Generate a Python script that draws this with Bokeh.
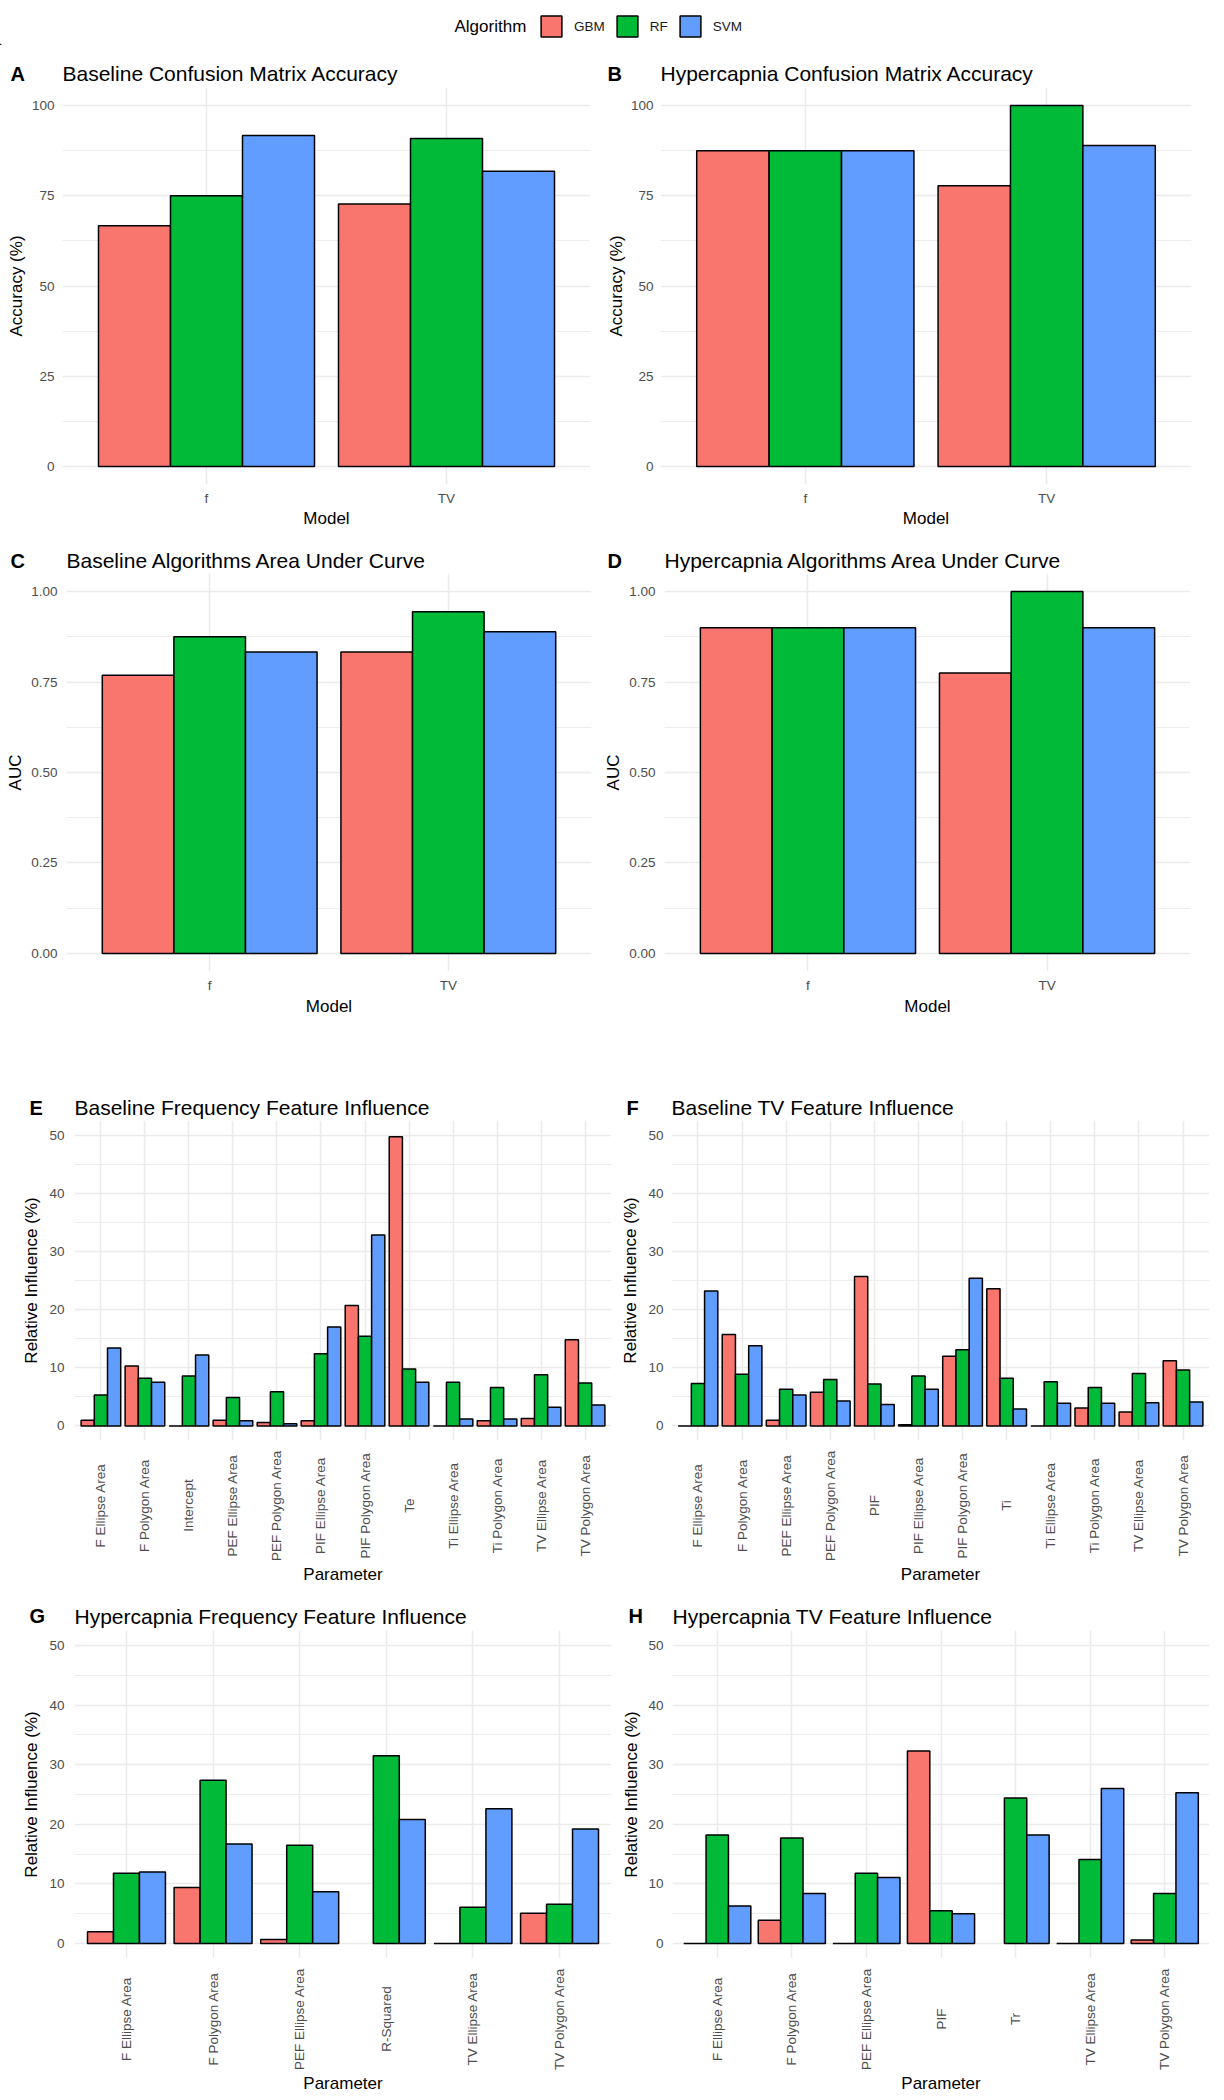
import math
from bokeh.plotting import figure
from bokeh.models import (FactorRange, Range1d, FixedTicker, PrintfTickFormatter,
                          ColumnDataSource, Label, Legend, LegendItem)
from bokeh.core.properties import value
from bokeh.transform import dodge
from bokeh.layouts import column, row
from bokeh.embed import file_html
from bokeh.resources import INLINE

NaN = float("nan")

# ---------------- data ----------------
algorithms = ["GBM", "RF", "SVM"]
colors = ["#F8766D", "#00BA38", "#619CFF"]

models = ["f", "TV"]
base_acc_gbm = [66.7, 72.7]
base_acc_rf = [75.0, 90.9]
base_acc_svm = [91.7, 81.8]

hyper_acc_gbm = [87.5, 77.8]
hyper_acc_rf = [87.5, 100.0]
hyper_acc_svm = [87.5, 88.9]

base_auc_gbm = [0.769, 0.833]
base_auc_rf = [0.875, 0.944]
base_auc_svm = [0.833, 0.889]

hyper_auc_gbm = [0.900, 0.775]
hyper_auc_rf = [0.900, 1.000]
hyper_auc_svm = [0.900, 0.900]

base_f_params = ["F Ellipse Area", "F Polygon Area", "Intercept", "PEF Ellipse Area",
                 "PEF Polygon Area", "PIF Ellipse Area", "PIF Polygon Area", "Te",
                 "Ti Ellipse Area", "Ti Polygon Area", "TV Ellipse Area", "TV Polygon Area"]
base_f_gbm = [1.0, 10.3, 0.0, 1.0, 0.6, 0.9, 20.7, 49.7, 0.0, 0.9, 1.3, 14.8]
base_f_rf = [5.3, 8.2, 8.6, 4.9, 5.9, 12.4, 15.4, 9.8, 7.5, 6.6, 8.8, 7.4]
base_f_svm = [13.4, 7.5, 12.2, 0.9, 0.4, 17.0, 32.8, 7.5, 1.2, 1.2, 3.2, 3.6]

base_tv_params = ["F Ellipse Area", "F Polygon Area", "PEF Ellipse Area", "PEF Polygon Area",
                  "PIF", "PIF Ellipse Area", "PIF Polygon Area", "Ti",
                  "Ti Ellipse Area", "Ti Polygon Area", "TV Ellipse Area", "TV Polygon Area"]
base_tv_gbm = [0.0, 15.7, 1.0, 5.8, 25.7, 0.2, 12.0, 23.6, 0.0, 3.1, 2.4, 11.2]
base_tv_rf = [7.3, 8.9, 6.3, 8.0, 7.2, 8.6, 13.1, 8.2, 7.6, 6.6, 9.0, 9.6]
base_tv_svm = [23.2, 13.8, 5.3, 4.3, 3.7, 6.3, 25.4, 2.9, 3.9, 3.9, 4.0, 4.1]

hyper_f_params = ["F Ellipse Area", "F Polygon Area", "PEF Ellipse Area", "R-Squared",
                  "TV Ellipse Area", "TV Polygon Area"]
hyper_f_gbm = [2.0, 9.4, 0.7, NaN, 0.0, 5.1]
hyper_f_rf = [11.8, 27.4, 16.5, 31.5, 6.1, 6.6]
hyper_f_svm = [12.0, 16.7, 8.7, 20.8, 22.6, 19.2]

hyper_tv_params = ["F Ellipse Area", "F Polygon Area", "PEF Ellipse Area", "PIF", "Tr",
                   "TV Ellipse Area", "TV Polygon Area"]
hyper_tv_gbm = [0.0, 3.9, 0.0, 32.3, NaN, 0.0, 0.6]
hyper_tv_rf = [18.2, 17.7, 11.8, 5.5, 24.4, 14.1, 8.4]
hyper_tv_svm = [6.3, 8.4, 11.1, 5.0, 18.2, 26.0, 25.3]

acc_ticks = [0, 25, 50, 75, 100]
acc_minor = [12.5, 37.5, 62.5, 87.5]
auc_ticks = [0, 0.25, 0.5, 0.75, 1.0]
auc_minor = [0.125, 0.375, 0.625, 0.875]
inf_ticks = [0, 10, 20, 30, 40, 50]
inf_minor = [5, 15, 25, 35, 45]

titles_row1 = ["Baseline Confusion Matrix Accuracy", "Hypercapnia Confusion Matrix Accuracy"]
titles_row2 = ["Baseline Algorithms Area Under Curve", "Hypercapnia Algorithms Area Under Curve"]
titles_row3 = ["Baseline Frequency Feature Influence", "Baseline TV Feature Influence"]
titles_row4 = ["Hypercapnia Frequency Feature Influence", "Hypercapnia TV Feature Influence"]

# ---------------- style ----------------
FONT = "Liberation Sans"
GRID = "#EBEBEB"
TICK = "#4D4D4D"
PAGE_W = 1224


def style_axis(ax, tick_fs):
    ax.axis_line_color = None
    ax.major_tick_line_color = None
    ax.minor_tick_line_color = None
    ax.major_tick_out = 0
    ax.major_tick_in = 0
    ax.minor_tick_out = 0
    ax.minor_tick_in = 0
    ax.major_label_text_color = TICK
    ax.major_label_text_font = FONT
    ax.major_label_text_font_size = tick_fs
    ax.axis_label_text_font = FONT
    ax.axis_label_text_font_style = "normal"
    ax.axis_label_text_color = "black"
    ax.axis_label_text_font_size = "17px"


def make_panel(factors, gbm, rf, svm, lay):
    y0, y1 = lay["yr"]
    rotated = lay.get("rotated", False)
    p = figure(width=lay["w"], height=lay["h"], title=None,
               x_range=FactorRange(factors=factors, range_padding=0.1,
                                   range_padding_units="absolute"),
               y_range=Range1d(y0, y1),
               x_axis_location=None if rotated else "below",
               min_border_left=lay["bl"], min_border_right=lay["w"] - lay["bl"] - lay["fw"],
               min_border_top=0, min_border_bottom=lay["h"] - lay["fh"],
               output_backend="svg", toolbar_location=None)
    p.outline_line_color = None
    src = ColumnDataSource(dict(param=factors, GBM=gbm, RF=rf, SVM=svm))
    for alg, col, off in zip(algorithms, colors, [-0.3, 0.0, 0.3]):
        p.vbar(x=dodge("param", off, range=p.x_range), top=alg, bottom=0, width=0.3,
               source=src, fill_color=col, line_color="black", line_width=1.5)

    for ax in p.axis:
        style_axis(ax, lay["tick_fs"])

    ticker = FixedTicker(ticks=lay["ticks"], minor_ticks=lay["minor"])
    p.yaxis.ticker = ticker
    p.ygrid.ticker = ticker
    if lay.get("fmt"):
        p.yaxis.formatter = PrintfTickFormatter(format=lay["fmt"])
    p.yaxis.axis_label = lay["ylabel"]
    p.yaxis.major_label_standoff = lay["ytick_so"]
    p.yaxis.axis_label_standoff = lay["ylab_so"]
    if not rotated:
        p.xaxis.axis_label = lay["xlabel"]
        p.xaxis.major_label_standoff = lay["xtick_so"]
        p.xaxis.axis_label_standoff = lay["xlab_so"]

    p.xgrid.grid_line_color = GRID
    p.xgrid.grid_line_width = 1.5
    p.ygrid.grid_line_color = GRID
    p.ygrid.grid_line_width = 1.5
    p.ygrid.minor_grid_line_color = GRID
    p.ygrid.minor_grid_line_width = 0.9
    return p, src


def make_label_strip(panel, src, factors, lay):
    """Strip below a panel: vertical category labels (centred) and the x-axis title."""
    sh = lay["strip_h"]
    s = figure(width=lay["w"], height=sh, title=None,
               x_range=panel.x_range, y_range=Range1d(0, sh),
               x_axis_location=None, y_axis_location=None,
               min_border_left=lay["bl"], min_border_right=lay["w"] - lay["bl"] - lay["fw"],
               min_border_top=0, min_border_bottom=0,
               output_backend="svg", toolbar_location=None)
    s.outline_line_color = None
    s.grid.visible = False
    s.text(x="param", y=sh - lay["lab_dy"], text="param", source=src,
           angle=math.pi / 2, text_align="center", text_baseline="middle",
           text_font=value(FONT), text_font_size=lay["tick_fs"], text_color=TICK)
    s.text(x=[len(factors) / 2.0], y=[sh - lay["xlab_dy"]], text=[lay["xlabel"]],
           text_align="center", text_baseline="middle", text_font=value(FONT),
           text_font_size="17px", text_color="black")
    return s


def make_title_strip(height, baseline, tags, tag_x, titles, title_x):
    t = figure(width=PAGE_W, height=height, title=None,
               x_range=Range1d(0, PAGE_W), y_range=Range1d(0, height),
               x_axis_type=None, y_axis_type=None, min_border=0,
               output_backend="svg", toolbar_location=None)
    t.outline_line_color = None
    t.grid.visible = False
    t.text(x=tag_x, y=[baseline] * len(tags), text=tags, text_font=value(FONT),
           text_font_size="20px", text_font_style="bold", text_baseline="alphabetic",
           text_align="left", text_color="black")
    t.text(x=title_x, y=[baseline] * len(titles), text=titles, text_font=value(FONT),
           text_font_size="21px", text_font_style="normal", text_baseline="alphabetic",
           text_align="left", text_color="black")
    return t


# ---------------- layouts (pixels) ----------------
row1 = dict(h=449, fh=397, yr=(-5, 105), ticks=acc_ticks, minor=acc_minor,
            ylabel="Accuracy (%)", xlabel="Model", tick_fs="13.5px", xtick_so=6, xlab_so=0)
row2 = dict(h=507, fh=398, yr=(-0.05, 1.05), ticks=auc_ticks, minor=auc_minor,
            fmt="%.2f", ylabel="AUC", xlabel="Model", tick_fs="13.5px", xtick_so=6, xlab_so=1)
row3 = dict(h=320, fh=320, yr=(-2.5, 52.5), ticks=inf_ticks, minor=inf_minor,
            ylabel="Relative Influence (%)", xlabel="Parameter", tick_fs="13.5px",
            rotated=True, strip_h=152, lab_dy=65, xlab_dy=134)
row4 = dict(h=328, fh=328, yr=(-2.5, 52.5), ticks=inf_ticks, minor=inf_minor,
            ylabel="Relative Influence (%)", xlabel="Parameter", tick_fs="13.5px",
            rotated=True, strip_h=142, lab_dy=60.5, xlab_dy=125)

lay_a = dict(row1, w=600, bl=62, fw=528, ytick_so=8, ylab_so=3)
lay_b = dict(row1, w=624, bl=60, fw=531, ytick_so=7, ylab_so=2)
lay_c = dict(row2, w=600, bl=66, fw=525, ytick_so=9, ylab_so=3)
lay_d = dict(row2, w=624, bl=64, fw=526, ytick_so=9, ylab_so=3)
lay_e = dict(row3, w=618, bl=74, fw=537, ytick_so=10, ylab_so=5)
lay_f = dict(row3, w=606, bl=53, fw=538, ytick_so=8, ylab_so=5)
lay_g = dict(row4, w=618, bl=74, fw=537, ytick_so=10, ylab_so=5)
lay_h = dict(row4, w=606, bl=54, fw=537, ytick_so=9, ylab_so=4)

pa, _ = make_panel(models, base_acc_gbm, base_acc_rf, base_acc_svm, lay_a)
pb, _ = make_panel(models, hyper_acc_gbm, hyper_acc_rf, hyper_acc_svm, lay_b)
pc, _ = make_panel(models, base_auc_gbm, base_auc_rf, base_auc_svm, lay_c)
pd_, _ = make_panel(models, hyper_auc_gbm, hyper_auc_rf, hyper_auc_svm, lay_d)
pe, se = make_panel(base_f_params, base_f_gbm, base_f_rf, base_f_svm, lay_e)
pf, sf = make_panel(base_tv_params, base_tv_gbm, base_tv_rf, base_tv_svm, lay_f)
pg, sg = make_panel(hyper_f_params, hyper_f_gbm, hyper_f_rf, hyper_f_svm, lay_g)
ph, sh = make_panel(hyper_tv_params, hyper_tv_gbm, hyper_tv_rf, hyper_tv_svm, lay_h)

le = make_label_strip(pe, se, base_f_params, lay_e)
lf = make_label_strip(pf, sf, base_tv_params, lay_f)
lg = make_label_strip(pg, sg, hyper_f_params, lay_g)
lh = make_label_strip(ph, sh, hyper_tv_params, lay_h)

# title strips: tag letters and panel titles (title aligned with its panel's frame)
t1 = make_title_strip(42, 14, ["A", "B"], [10, 607], titles_row1,
                      [lay_a["bl"], lay_a["w"] + lay_b["bl"]])
t2 = make_title_strip(37, 13, ["C", "D"], [10, 607], titles_row2,
                      [lay_c["bl"], lay_c["w"] + lay_d["bl"]])
t3 = make_title_strip(40, 13, ["E", "F"], [29, 626], titles_row3,
                      [lay_e["bl"], lay_e["w"] + lay_f["bl"]])
t4 = make_title_strip(38, 14.5, ["G", "H"], [29, 628], titles_row4,
                      [lay_g["bl"], lay_g["w"] + lay_h["bl"]])

# ---------------- legend strip ----------------
pl = figure(width=PAGE_W, height=45, x_range=Range1d(0, PAGE_W), y_range=Range1d(0, 45),
            x_axis_type=None, y_axis_type=None, min_border=0, title=None,
            output_backend="svg", toolbar_location=None)
pl.outline_line_color = None
pl.grid.visible = False
items = []
for alg, col in zip(algorithms, colors):
    r = pl.vbar(x=[-100], top=[1], width=1, fill_color=col, line_color="black",
                line_width=1.5)
    items.append(LegendItem(label=alg, renderers=[r]))
leg = Legend(items=items, orientation="horizontal", location=(538, 6),
             glyph_width=26, glyph_height=26, label_standoff=10, spacing=9,
             padding=0, margin=0, border_line_color=None, background_fill_alpha=0,
             label_text_font=FONT, label_text_font_size="13.5px",
             label_text_color="#1A1A1A", label_width=18)
pl.add_layout(leg, "center")
pl.add_layout(Label(x=454, y=19, text="Algorithm", text_font=FONT, text_font_size="17px",
                    text_baseline="middle", text_align="left", text_color="black"))

layout = column(pl,
                t1, row(pa, pb),
                t2, row(pc, pd_),
                t3, row(pe, pf), row(le, lf),
                t4, row(pg, ph), row(lg, lh))

open("out.html", "w").write(file_html(layout, INLINE))
